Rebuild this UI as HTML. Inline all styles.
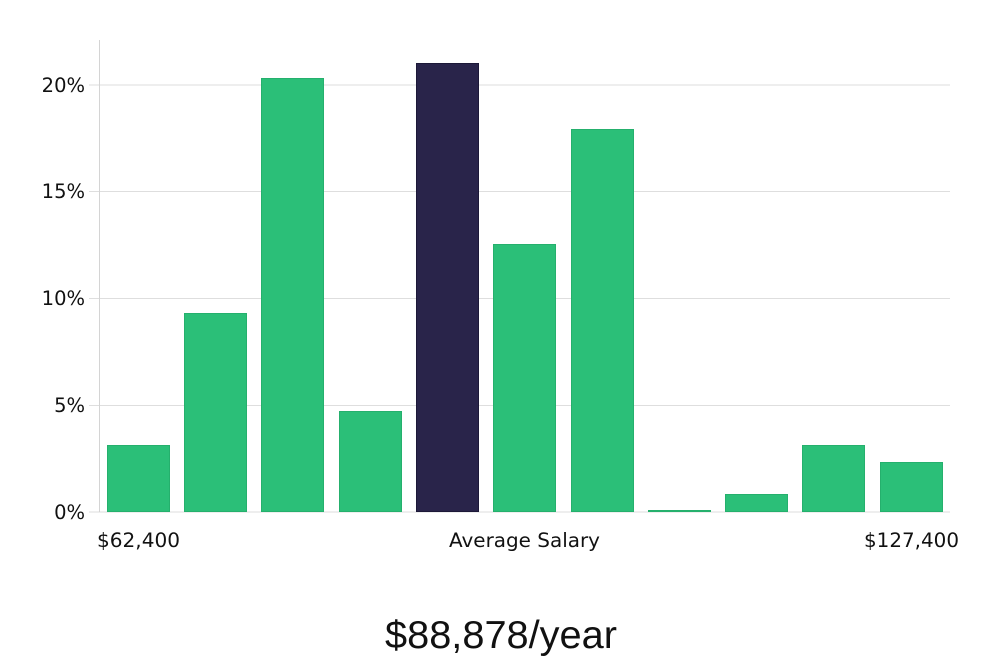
<!DOCTYPE html>
<html><head><style>body{margin:0;background:#fff}svg{display:block}</style></head><body>
<svg width="1000" height="660" xmlns="http://www.w3.org/2000/svg" font-family="DejaVu Sans, sans-serif">
<g stroke="#dedede" stroke-width="1">
<line x1="89" y1="85" x2="950" y2="85"/><line x1="89" y1="191.5" x2="950" y2="191.5"/><line x1="89" y1="298.5" x2="950" y2="298.5"/><line x1="89" y1="405.5" x2="950" y2="405.5"/><line x1="89" y1="512" x2="950" y2="512"/>
</g>
<line x1="99.5" y1="40" x2="99.5" y2="512" stroke="#d4d4d4"/>
<g font-size="19.5" fill="#111" text-anchor="end">
<text x="85" y="92">20%</text><text x="85" y="198">15%</text><text x="85" y="305">10%</text><text x="85" y="412">5%</text><text x="85" y="519">0%</text>
</g>
<g fill="#2bbf78" stroke="#25b06d" stroke-width="1">
<rect x="107.5" y="445.5" width="62" height="66"/>
<rect x="184.5" y="313.5" width="62" height="198"/>
<rect x="261.5" y="78.5" width="62" height="433"/>
<rect x="339.5" y="411.5" width="62" height="100"/>
<rect x="493.5" y="244.5" width="62" height="267"/>
<rect x="571.5" y="129.5" width="62" height="382"/>
<rect x="648.5" y="510.5" width="62" height="1"/>
<rect x="725.5" y="494.5" width="62" height="17"/>
<rect x="802.5" y="445.5" width="62" height="66"/>
<rect x="880.5" y="462.5" width="62" height="49"/>
</g>
<rect x="416.5" y="63.5" width="62" height="448" fill="#29244a" stroke="#1c1838"/>
<g font-size="19.5" fill="#111">
<text x="97" y="547" textLength="83" lengthAdjust="spacingAndGlyphs">$62,400</text>
<text x="449" y="547" textLength="151" lengthAdjust="spacingAndGlyphs">Average Salary</text>
<text x="864" y="547" textLength="95" lengthAdjust="spacingAndGlyphs">$127,400</text>
</g>
<text x="385" y="648" font-size="39" fill="#111" textLength="232" lengthAdjust="spacingAndGlyphs" font-family="Liberation Sans, sans-serif">$88,878/year</text>
</svg>
</body></html>
